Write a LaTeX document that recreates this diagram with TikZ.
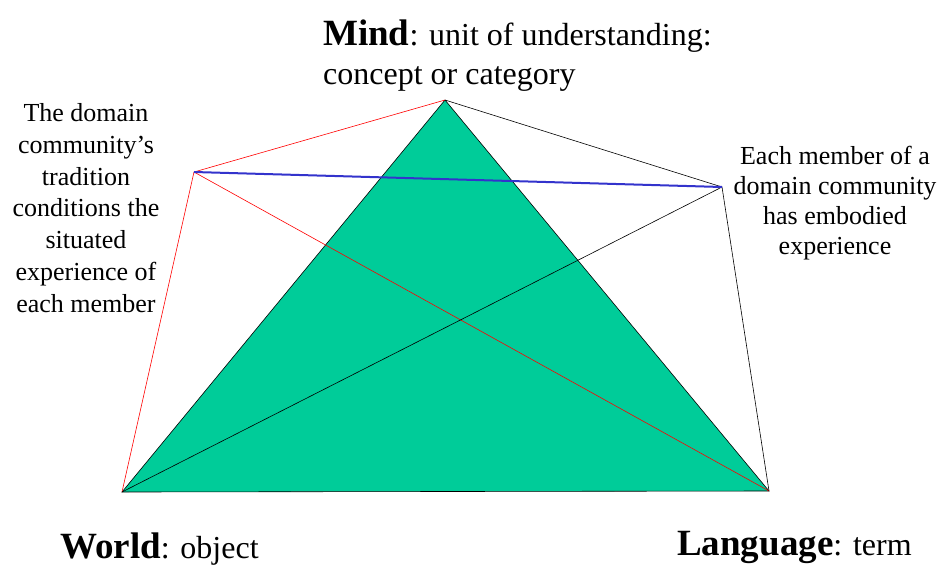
\documentclass[tikz,border=0pt]{standalone}
\usepackage{fontspec}
\setmainfont{Liberation Serif}
\definecolor{tri}{HTML}{00CC99}
\definecolor{blueline}{HTML}{3333CC}
\newcommand{\bigb}[1]{{\fontsize{37}{40}\selectfont\textbf{#1}}}
\newcommand{\regt}{\fontsize{32}{36}\selectfont}
\begin{document}
\begin{tikzpicture}[x=1pt,y=-1pt,
  redl/.style={draw=red,line width=0.6pt},
  blackl/.style={draw=black,line width=0.6pt},
  lnote/.style={align=center,font=\rmfamily\fontsize{26}{31.7}\selectfont,inner sep=0pt},
  rnote/.style={align=center,font=\rmfamily\fontsize{26}{30}\selectfont,inner sep=0pt},
  lab/.style={anchor=base west,inner sep=0pt}]
\useasboundingbox (0,0) rectangle (937,566);
\coordinate (M) at (445,100);
\coordinate (W) at (122,492);
\coordinate (L) at (769,491);
\coordinate (P) at (194,172);
\coordinate (Q) at (722,187);
\fill[tri,draw=black,line width=0.6pt] (M) -- (W) -- (L) -- cycle;
\draw[redl] (M) -- (P) -- (W);
\draw[redl] (P) -- (L);
\draw[blackl] (M) -- (Q) -- (L);
\draw[blackl] (Q) -- (W);
\draw[draw=blueline,line width=2pt] (P) -- (Q);
\node[lab] (mind) at (323,45) {\bigb{Mind}\regt: unit of understanding:};
\node[lab] (mind2) at (323,84) {\regt concept or category};
\node[lnote] (ln) at (86,208) {The domain\\community’s\\tradition\\conditions the\\situated\\experience of\\each member};
\node[rnote] (rn) at (835,203) {Each member of a\\domain community\\has embodied\\experience};
\node[lab] (world) at (60,558) {\bigb{World}\regt: object};
\node[lab] (lang) at (677,555) {\bigb{Language}\regt: term};
\end{tikzpicture}
\end{document}
